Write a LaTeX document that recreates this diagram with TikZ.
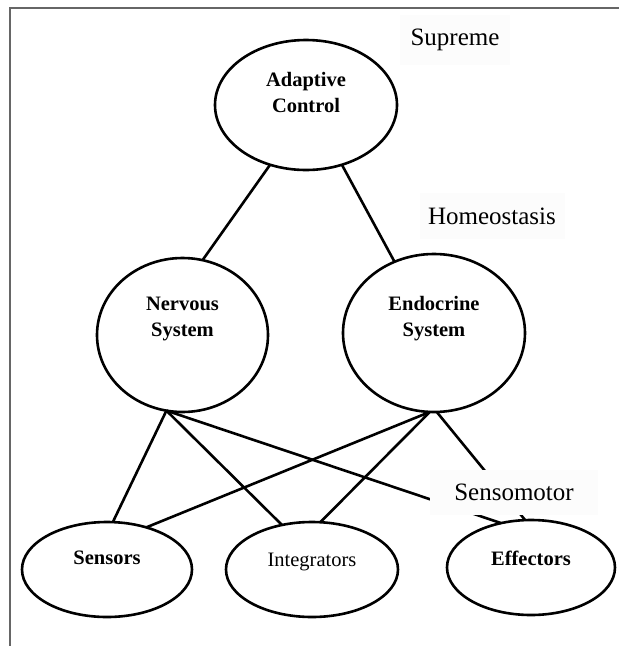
\documentclass[tikz,border=0pt]{standalone}
\usepackage{fontspec}
\setmainfont{Liberation Serif}
\usetikzlibrary{shapes.geometric}
\begin{document}
\begin{tikzpicture}[x=1pt,y=-1pt,
  oval/.style={ellipse,draw,line width=2.6pt,inner sep=0pt,outer sep=0pt},
  lbl/.style={font=\fontsize{20.5}{26}\selectfont\bfseries,align=center,inner sep=0pt},
  lblplain/.style={font=\fontsize{20.5}{26}\selectfont,align=center,inner sep=0pt},
  link/.style={line width=2.6pt},
  level/.style={font=\fontsize{25}{30}\selectfont,fill=black!1,inner sep=0pt},
  framerule/.style={draw=black!60,line width=2pt}]
\useasboundingbox (0,0) rectangle (619,646);

% frame (top and left rules)
\coordinate (ftop) at (619,8);
\coordinate (fcorner) at (10,8);
\coordinate (fbot) at (10,646);
\draw[framerule] (ftop) -- (fcorner) -- (fbot);

% level labels that do not cover anything
\node[level, minimum width=110, minimum height=50] (supreme) at (455,40) {Supreme};
\node[level, minimum width=145, minimum height=46] (homeo) at (492,216) {Homeostasis};

% systems
\node[oval, minimum width=182, minimum height=130,
  label={[lbl,yshift=12.5pt]center:{Adaptive\\Control}}] (adapt) at (306,105) {};
\node[oval, minimum width=171, minimum height=154,
  label={[lbl,yshift=16.5pt]center:{Nervous\\System}}] (nerv) at (182.5,335) {};
\node[oval, minimum width=182, minimum height=158,
  label={[lbl,yshift=14.5pt]center:{Endocrine\\System}}] (endo) at (434,333) {};
\node[oval, minimum width=170, minimum height=95,
  label={[lbl,yshift=11.5pt]center:Sensors}] (sens) at (107,569.5) {};
\node[oval, minimum width=172, minimum height=95,
  label={[lblplain,yshift=8pt]center:Integrators}] (integ) at (312,569.5) {};
\node[oval, minimum width=168, minimum height=95,
  label={[lbl,yshift=9.5pt]center:Effectors}] (effe) at (531,567.5) {};

% connections
\draw[link] (adapt.239) -- (nerv.75);
\draw[link] (adapt.301) -- (endo.119);
\draw[link] (nerv.258) -- (sens.83);
\draw[link] (nerv.258) -- (integ.124);
\draw[link] (nerv.258) -- (effe.124);
\draw[link] (endo.267) -- (sens.47);
\draw[link] (endo.267) -- (integ.80);
\draw[link] (endo.272) -- (effe.97);

% sensomotor label sits on top of the lines
\node[level, minimum width=168, minimum height=45] (senso) at (514,492.5) {Sensomotor};
\end{tikzpicture}
\end{document}
